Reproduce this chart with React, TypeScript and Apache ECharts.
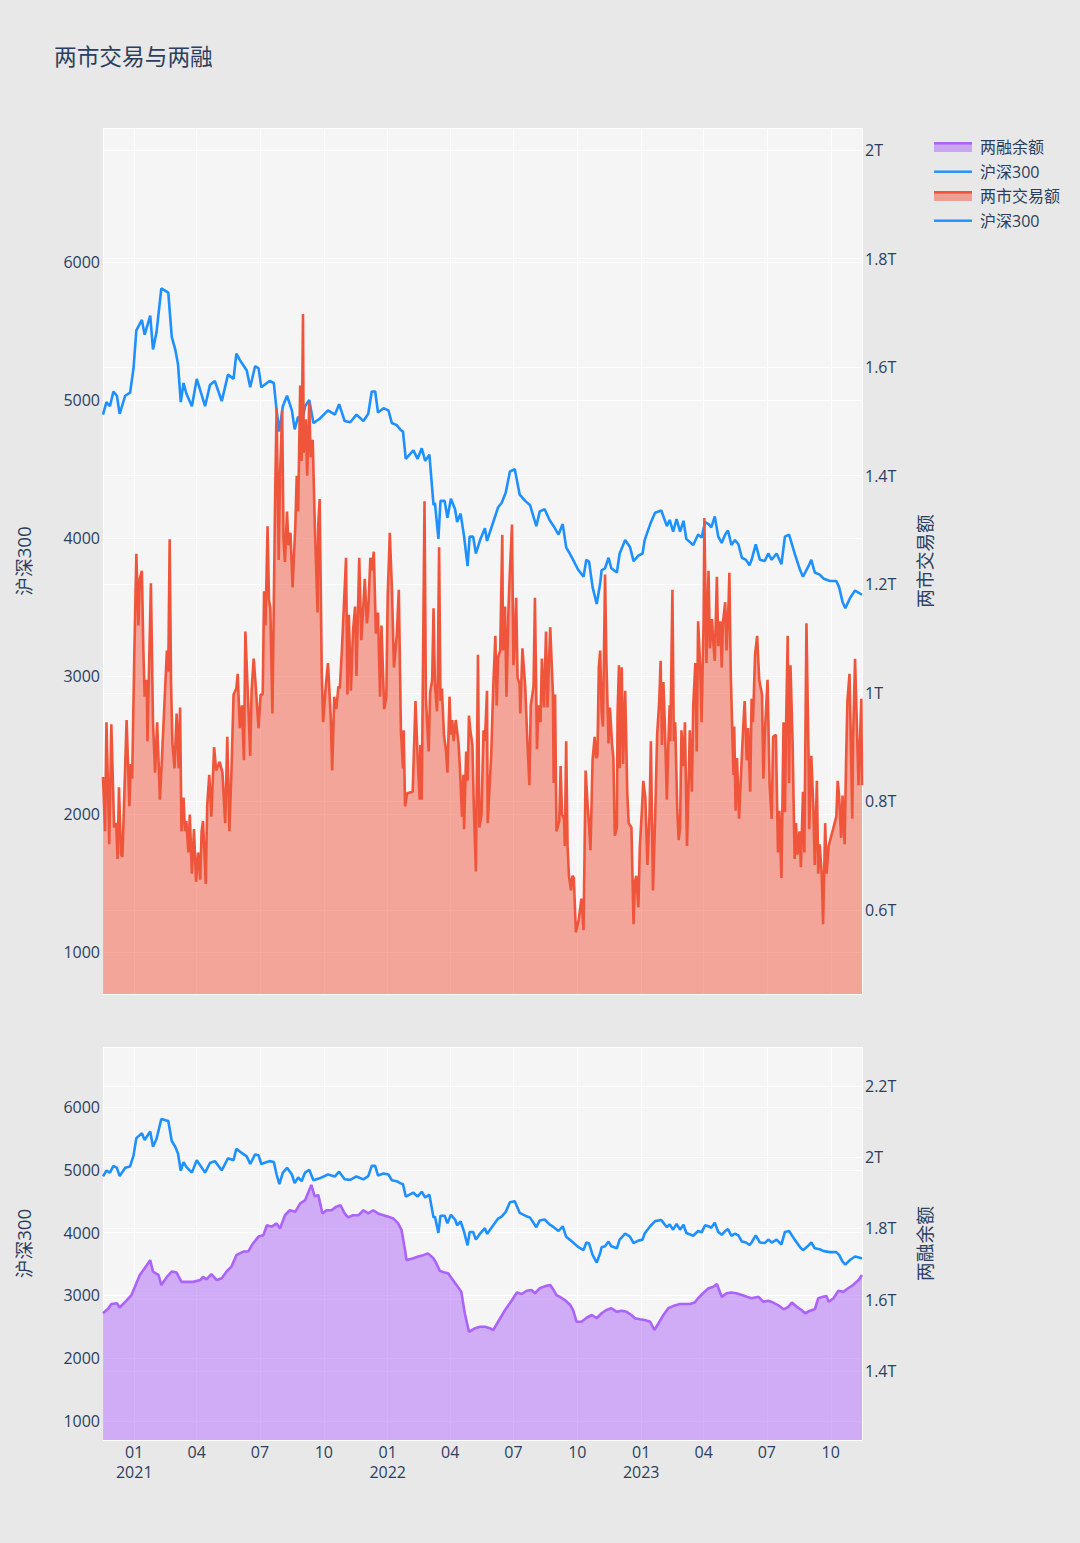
import React, { useEffect, useRef } from "react";
import * as echarts from "echarts";

// ---- data (dates as trading-day offsets from BASE_DATE) ----
const BASE_DATE = [2020, 10, 17]; // 2020-11-17
const X_END_DAY = 1093;

const hs300Days = [0,5,10,15,20,24,32,39,44,48,56,60,68,72,77,84,94,99,104,108,112,116,120,128,135,147,154,161,171,180,188,192,197,207,212,219,224,228,236,240,246,250,254,259,265,272,276,281,286,291,297,303,312,324,334,340,348,356,365,375,382,387,392,396,404,411,416,423,428,432,436,447,453,459,464,470,476,478,483,486,492,496,501,507,510,515,520,525,528,533,537,543,550,553,562,569,574,580,586,593,600,608,615,624,629,636,643,649,656,662,667,672,677,684,692,696,700,705,711,716,718,723,728,732,740,744,752,759,764,771,777,780,788,795,804,812,816,821,826,831,836,840,850,857,862,865,867,872,876,881,886,891,896,900,905,910,915,920,926,931,934,940,946,953,958,963,970,977,982,988,996,1004,1008,1016,1020,1025,1032,1038,1047,1056,1060,1065,1069,1076,1083,1090,1093];
const hs300Values = [4894,4985,4955,5062,5031,4900,5031,5053,5230,5504,5580,5473,5611,5367,5489,5809,5778,5458,5367,5260,4985,5123,5047,4955,5153,4955,5108,5138,4992,5184,5153,5336,5290,5214,5092,5245,5230,5092,5123,5138,5123,4925,4772,4955,5031,4925,4787,4879,4818,4955,5001,4833,4864,4925,4894,4970,4848,4839,4894,4848,4900,5062,5062,4909,4940,4925,4833,4818,4787,4770,4574,4635,4574,4650,4559,4604,4238,4254,3994,4269,4269,4147,4284,4208,4116,4177,4010,3796,4010,4010,3888,3985,4071,3979,4116,4223,4254,4330,4482,4498,4315,4269,4238,4086,4193,4208,4131,4086,4025,4101,3933,3888,3842,3772,3720,3842,3827,3644,3522,3674,3766,3781,3857,3781,3750,3888,3985,3933,3833,3872,3888,3985,4101,4183,4199,4086,4131,4046,4138,4046,4125,3994,3949,4025,4003,4071,4116,4101,4077,4156,4010,3964,4025,4055,3949,3985,3955,3857,3842,3802,3842,3955,3842,3833,3888,3842,3888,3811,4010,4025,3888,3766,3720,3796,3842,3750,3735,3705,3689,3689,3644,3537,3491,3567,3619,3598,3589];

const turnoverDays = [0,3,5,9,12,16,19,21,23,26,28,30,34,38,40,42,45,48,51,53,56,58,60,63,64,69,72,75,78,82,87,92,94,96,98,100,103,106,109,111,113,116,118,120,123,125,128,131,134,137,140,142,144,148,150,153,156,160,163,168,172,176,179,182,185,188,192,194,197,200,203,205,209,212,214,217,220,224,227,230,232,234,237,239,241,244,248,250,253,255,258,260,262,265,267,270,273,277,279,281,284,286,288,289,292,294,297,299,302,305,309,310,312,315,317,321,324,328,330,333,336,339,341,344,347,350,352,354,357,360,363,365,369,372,375,377,380,382,385,387,390,393,396,399,401,405,408,410,413,416,419,423,426,429,432,433,435,438,446,450,453,456,457,459,463,465,469,471,474,476,478,481,482,484,486,488,491,494,496,499,501,503,505,508,512,514,517,519,520,523,525,527,529,532,534,537,540,542,545,548,550,553,554,556,559,562,565,567,569,572,575,576,579,581,584,586,589,591,592,595,597,600,601,604,608,611,614,616,620,622,625,627,630,632,635,638,640,644,648,649,651,653,657,659,661,664,665,667,669,671,674,676,678,681,685,689,692,695,698,700,702,705,708,710,712,714,716,718,720,723,725,728,730,733,735,737,740,741,743,744,747,749,752,755,757,761,764,766,768,771,773,776,778,781,784,787,789,792,795,798,801,803,805,807,809,812,814,816,817,820,822,824,827,829,831,833,836,838,841,843,845,848,850,853,855,857,860,862,865,866,869,872,874,877,879,881,884,886,889,891,893,896,898,901,902,904,906,908,909,911,913,916,919,922,924,927,929,932,934,936,939,942,945,949,951,953,957,960,963,965,969,972,974,977,980,982,984,986,988,990,993,996,998,1000,1003,1005,1008,1010,1013,1016,1017,1020,1023,1025,1028,1030,1032,1035,1037,1040,1042,1045,1056,1058,1060,1063,1065,1068,1070,1072,1075,1077,1079,1080,1083,1085,1088,1090,1092,1093];
const turnoverValues = [0.845,0.745,0.946,0.721,0.942,0.752,0.760,0.694,0.826,0.702,0.698,0.783,0.950,0.791,0.869,0.842,1.063,1.256,1.124,1.210,1.225,1.086,0.993,1.024,0.911,1.202,0.946,0.853,0.946,0.803,0.938,1.078,1.039,1.283,1.016,0.907,0.861,0.962,0.861,0.973,0.745,0.807,0.745,0.764,0.706,0.776,0.667,0.749,0.652,0.706,0.656,0.745,0.764,0.648,0.791,0.849,0.772,0.900,0.857,0.873,0.853,0.760,0.919,0.745,0.857,0.997,1.008,1.035,0.935,0.977,0.876,1.113,0.985,0.884,1.004,1.063,1.012,0.935,0.997,0.997,1.187,1.124,1.307,1.171,1.156,0.962,1.373,1.524,1.245,1.404,1.520,1.283,1.241,1.334,1.272,1.295,1.194,1.310,1.400,1.334,1.566,1.427,1.698,1.442,1.504,1.400,1.535,1.434,1.466,1.310,1.148,1.310,1.357,1.039,0.946,1.016,1.055,0.954,0.857,0.993,0.970,1.012,1.008,1.078,1.163,1.249,0.997,1.144,1.004,1.113,1.159,1.031,1.249,1.097,1.163,1.210,1.128,1.152,1.249,1.225,1.260,1.109,1.148,0.993,1.124,0.970,0.993,1.179,1.295,1.194,1.047,1.105,1.190,0.931,0.861,0.931,0.791,0.815,0.818,0.985,0.884,0.803,0.904,0.803,1.353,0.989,0.892,1.000,1.024,1.156,1.016,0.966,1.016,1.268,0.985,1.008,0.923,0.892,0.853,0.993,0.923,0.950,0.911,0.950,0.907,0.861,0.772,0.849,0.749,0.892,0.838,0.958,0.931,0.904,0.791,0.671,1.070,0.752,0.776,0.931,0.911,1.004,0.760,0.811,0.884,1.012,1.105,0.977,1.066,1.078,1.291,1.078,1.159,0.993,1.159,1.225,1.310,1.051,1.066,1.175,1.028,1.016,0.962,1.082,1.012,0.915,0.830,0.977,1.012,1.175,0.896,0.977,0.946,1.063,0.973,1.113,0.973,1.121,0.997,0.834,0.997,0.745,0.764,0.865,0.776,0.768,0.718,0.911,0.718,0.663,0.636,0.663,0.659,0.559,0.582,0.621,0.563,0.857,0.791,0.756,0.710,0.876,0.919,0.880,0.884,1.047,1.078,0.966,0.938,1.218,1.055,0.907,0.973,0.907,0.880,0.737,0.752,0.962,1.051,0.861,1.047,0.869,1.004,0.815,0.760,0.752,0.574,0.652,0.663,0.605,0.714,0.783,0.838,0.807,0.683,0.776,0.911,0.636,0.764,0.923,0.985,1.059,0.904,1.020,0.946,0.803,0.900,0.977,0.911,1.190,0.911,0.946,0.783,0.729,0.752,0.931,0.865,0.946,0.718,0.818,0.931,0.818,0.977,1.055,0.892,1.132,1.047,0.946,1.140,1.322,1.055,1.225,1.082,1.136,1.090,1.059,1.214,1.086,1.132,1.047,1.132,1.167,1.078,1.171,1.221,1.035,0.938,0.849,0.938,0.783,0.880,0.768,0.857,0.938,0.985,0.876,0.935,0.818,0.989,0.946,1.070,1.105,1.024,0.997,0.842,0.923,1.024,0.830,0.768,0.919,0.923,0.706,0.783,0.659,0.946,0.780,0.962,1.105,0.834,1.051,0.911,0.694,0.760,0.702,0.745,0.679,0.818,0.706,1.128,0.884,0.749,0.884,0.787,0.683,0.838,0.667,0.721,0.667,0.574,0.760,0.667,0.718,0.772,0.838,0.811,0.733,0.811,0.721,0.869,0.985,1.035,0.907,0.768,0.907,1.063,0.970,0.830,0.907,0.989,0.830];

const marginDays = [0,8,12,20,24,32,41,46,53,60,68,72,80,84,92,99,106,113,120,130,140,144,149,156,164,171,178,185,192,202,209,216,224,231,236,243,250,255,262,269,277,284,291,296,300,305,310,316,322,329,336,342,348,353,360,368,375,382,389,396,404,411,418,425,430,435,437,447,454,461,468,476,480,485,492,497,502,509,516,521,527,536,543,550,557,562,569,579,589,596,603,610,617,622,629,637,644,649,653,658,665,673,677,682,689,697,704,711,718,725,732,740,747,754,761,766,773,780,788,794,800,807,814,821,831,838,845,852,857,864,872,879,884,891,898,905,912,920,927,934,944,951,958,965,972,980,987,992,999,1006,1011,1018,1025,1030,1037,1042,1045,1052,1059,1066,1073,1080,1088,1093];
const marginValues = [1.562,1.576,1.588,1.590,1.578,1.594,1.613,1.636,1.669,1.688,1.711,1.679,1.669,1.641,1.664,1.679,1.676,1.650,1.650,1.650,1.655,1.664,1.657,1.672,1.655,1.660,1.679,1.693,1.725,1.735,1.735,1.758,1.777,1.781,1.809,1.805,1.814,1.800,1.837,1.851,1.847,1.870,1.879,1.903,1.922,1.889,1.894,1.842,1.851,1.851,1.861,1.865,1.842,1.831,1.837,1.837,1.851,1.842,1.851,1.842,1.837,1.833,1.828,1.814,1.795,1.739,1.711,1.716,1.721,1.725,1.730,1.716,1.702,1.681,1.676,1.674,1.660,1.641,1.622,1.562,1.510,1.520,1.524,1.524,1.520,1.515,1.538,1.571,1.599,1.620,1.616,1.625,1.627,1.618,1.632,1.638,1.641,1.627,1.613,1.608,1.599,1.585,1.571,1.538,1.538,1.550,1.557,1.548,1.562,1.571,1.576,1.566,1.569,1.566,1.557,1.548,1.545,1.543,1.538,1.515,1.534,1.557,1.576,1.582,1.588,1.588,1.588,1.592,1.604,1.618,1.632,1.636,1.644,1.608,1.618,1.620,1.618,1.613,1.608,1.604,1.608,1.594,1.597,1.592,1.585,1.573,1.580,1.592,1.580,1.571,1.562,1.569,1.573,1.604,1.608,1.610,1.594,1.604,1.625,1.622,1.632,1.641,1.655,1.669];

const legendTop = ["两融余额", "沪深300"];
const legendBottom = ["两市交易额", "沪深300"];

// ---- helpers ----
const DAY_MS = 86400000;
const baseMs = new Date(BASE_DATE[0], BASE_DATE[1], BASE_DATE[2]).getTime();
const toSeries = (days: number[], vals: number[]) => days.map((d, i) => [baseMs + d * DAY_MS, vals[i]]);

const FONT = '"Open Sans", "Noto Sans CJK SC", sans-serif';
const TXT = "#2a3f5f";
const BLUE = "#1E90FF";
const RED = "#EF553B";
const PURPLE = "#AB63FA";
const LW = 2.6;

const svgIcon = (body: string) =>
  "image://data:image/svg+xml;charset=utf-8," +
  encodeURIComponent(`<svg xmlns='http://www.w3.org/2000/svg' width='38' height='10' viewBox='0 0 38 10'>${body}</svg>`);
const areaIcon = (c: string) => svgIcon(`<rect x='0' y='1' width='38' height='9' fill='${c}' fill-opacity='0.5'/><rect x='0' y='0' width='38' height='2.6' fill='${c}'/>`);
const lineIcon = (c: string) => svgIcon(`<rect x='0' y='4' width='38' height='2.4' fill='${c}'/>`);

const tFmt = (v: number) => {
  const r = Math.round(v * 10) / 10;
  return (Number.isInteger(r) ? r.toFixed(0) : r.toFixed(1)) + "T";
};
const monthFmt = (v: number) => {
  const d = new Date(v);
  const m = d.getMonth() + 1;
  const mm = (m < 10 ? "0" : "") + m;
  return m === 1 ? mm + "\n" + d.getFullYear() : mm;
};

export default function App() {
  const ref = useRef<HTMLDivElement>(null);
  useEffect(() => {
    if (!ref.current) return;
    const chart = echarts.init(ref.current, undefined, { renderer: "svg" });
    const grid1 = { left: 103, top: 128, width: 759, height: 866 };
    const grid2 = { left: 103, top: 1047, width: 759, height: 393 };
    const split = { show: true, lineStyle: { color: "#ffffff", width: 1 } };
    const xCommon = {
      type: "time",
      min: baseMs,
      max: baseMs + X_END_DAY * DAY_MS,
      minInterval: 100 * DAY_MS,
      maxInterval: 100 * DAY_MS,
      axisLine: { show: false },
      axisTick: { show: false },
      splitLine: split,
    };
    const yLeft = (gi: number, min: number, max: number) => ({
      type: "value",
      gridIndex: gi,
      position: "left",
      min,
      max,
      minInterval: 1000,
      maxInterval: 1000,
      name: "沪深300",
      nameLocation: "middle",
      nameRotate: 90,
      nameGap: 70,
      nameTextStyle: { color: TXT, fontSize: 18.7, fontFamily: FONT },
      axisLine: { show: false },
      axisTick: { show: false },
      splitLine: split,
      axisLabel: {
        color: TXT, fontSize: 16, fontFamily: FONT, margin: 3,
        showMinLabel: false, showMaxLabel: false,
        formatter: (v: number) => String(Math.round(v)),
      },
    });
    const yRight = (gi: number, min: number, max: number, name: string) => ({
      type: "value",
      gridIndex: gi,
      position: "right",
      min,
      max,
      minInterval: 0.2,
      maxInterval: 0.2,
      name,
      nameLocation: "middle",
      nameRotate: 90,
      nameGap: 53,
      nameTextStyle: { color: TXT, fontSize: 18.7, fontFamily: FONT },
      axisLine: { show: false },
      axisTick: { show: false },
      splitLine: split,
      axisLabel: {
        color: TXT, fontSize: 16, fontFamily: FONT, margin: 3,
        showMinLabel: false, showMaxLabel: false,
        formatter: tFmt,
      },
    });
    const legendCommon = {
      orient: "vertical",
      left: 929,
      itemWidth: 38,
      itemHeight: 10,
      itemGap: 8.5,
      textStyle: { color: TXT, fontSize: 16, fontFamily: FONT, lineHeight: 16, padding: [0, 0, 0, 3] },
      selectedMode: false,
    };
    const iconFor: Record<string, string> = {
      "两融余额": areaIcon(PURPLE),
      "两市交易额": areaIcon(RED),
      "沪深300": lineIcon(BLUE),
    };
    chart.setOption({
      animation: false,
      backgroundColor: "#e8e8e8",
      textStyle: { fontFamily: FONT },
      title: {
        text: "两市交易与两融",
        left: 49,
        top: 40,
        textStyle: { color: TXT, fontSize: 22.7, fontWeight: "normal", fontFamily: FONT },
      },
      legend: [
        { ...legendCommon, top: 134, data: legendTop.map((n) => ({ name: n, icon: iconFor[n] })) },
        { ...legendCommon, top: 183, data: legendBottom.map((n) => ({ name: n, icon: iconFor[n] })) },
      ],
      grid: [
        { ...grid1, show: true, backgroundColor: "#f5f5f5", borderWidth: 0 },
        { ...grid2, show: true, backgroundColor: "#f5f5f5", borderWidth: 0 },
      ],
      xAxis: [
        { ...xCommon, gridIndex: 0, axisLabel: { show: false } },
        {
          ...xCommon,
          gridIndex: 1,
          axisLabel: {
            color: TXT, fontSize: 16, fontFamily: FONT, margin: 2, lineHeight: 20,
            showMinLabel: false, showMaxLabel: false, hideOverlap: false,
            formatter: monthFmt,
          },
        },
      ],
      yAxis: [
        yLeft(0, 696, 6971),
        yRight(0, 0.4453, 2.0405, "两市交易额"),
        yLeft(1, 697.5, 6955),
        yRight(1, 1.2063, 2.309, "两融余额"),
      ],
      series: [
        {
          name: "沪深300", type: "line", xAxisIndex: 0, yAxisIndex: 0,
          data: toSeries(hs300Days, hs300Values), showSymbol: false, symbol: "none",
          color: BLUE, lineStyle: { color: BLUE, width: LW }, z: 2,
        },
        {
          name: "两市交易额", type: "line", xAxisIndex: 0, yAxisIndex: 1,
          data: toSeries(turnoverDays, turnoverValues), showSymbol: false, symbol: "none",
          color: RED, lineStyle: { color: RED, width: LW },
          areaStyle: { color: RED, opacity: 0.5, origin: "start" }, z: 3,
        },
        {
          name: "两融余额", type: "line", xAxisIndex: 1, yAxisIndex: 3,
          data: toSeries(marginDays, marginValues), showSymbol: false, symbol: "none",
          color: PURPLE, lineStyle: { color: PURPLE, width: LW },
          areaStyle: { color: PURPLE, opacity: 0.5, origin: "start" }, z: 2,
        },
        {
          name: "沪深300", type: "line", xAxisIndex: 1, yAxisIndex: 2,
          data: toSeries(hs300Days, hs300Values), showSymbol: false, symbol: "none",
          color: BLUE, lineStyle: { color: BLUE, width: LW }, z: 3,
        },
      ],
    });
    return () => chart.dispose();
  }, []);
  return (
    <div
      ref={ref}
      style={{ position: "absolute", left: 0, top: 0, width: 1080, height: 1543 }}
    />
  );
}
